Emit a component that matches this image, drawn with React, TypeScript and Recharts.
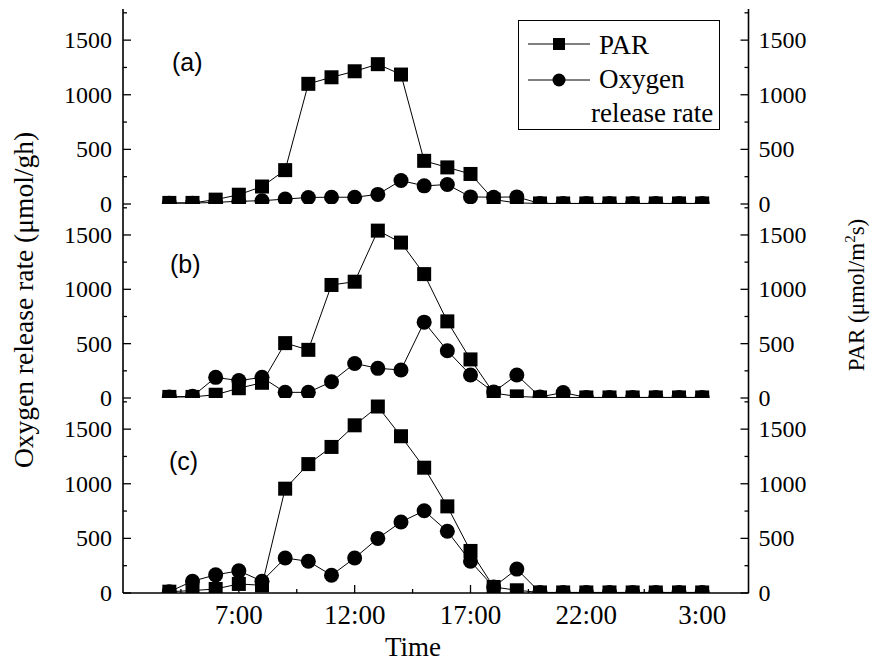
import React from 'react';
import { LineChart, Line, XAxis, YAxis, Legend } from 'recharts';

// hours of the day, 4:00 to 3:00 next morning (27 = 3:00)
const hours = [4, 5, 6, 7, 8, 9, 10, 11, 12, 13, 14, 15, 16, 17, 18, 19, 20, 21, 22, 23, 24, 25, 26, 27];

const parA = [10, 10, 40, 85, 160, 310, 1100, 1160, 1215, 1280, 1185, 395, 335, 275, 40, 10, 5, 5, 5, 5, 5, 5, 5, 5];
const oxyA = [8, 8, 15, 25, 30, 45, 60, 62, 62, 88, 215, 166, 178, 65, 62, 65, 5, 5, 5, 5, 5, 5, 5, 5];

const parB = [10, 10, 30, 90, 140, 505, 443, 1040, 1070, 1540, 1430, 1140, 705, 355, 45, 15, 5, 5, 5, 5, 5, 5, 5, 5];
const oxyB = [10, 15, 190, 160, 190, 52, 52, 150, 318, 273, 258, 698, 435, 212, 55, 212, 10, 50, 5, 5, 5, 5, 5, 5];

const parC = [12, 22, 37, 83, 70, 955, 1180, 1337, 1535, 1707, 1435, 1147, 793, 385, 55, 25, 5, 5, 5, 5, 5, 5, 5, 5];
const oxyC = [12, 108, 166, 203, 108, 320, 290, 163, 320, 500, 650, 753, 565, 290, 55, 219, 5, 5, 5, 5, 5, 5, 5, 5];

const xTicks = [4.5, 7, 9.5, 12, 14.5, 17, 19.5, 22, 24.5, 27];
const xMajor = [7, 12, 17, 22, 27];
const xLabels = ['7:00', '12:00', '17:00', '22:00', '3:00'];
const yTicks = [0, 250, 500, 750, 1000, 1250, 1500, 1750];
const yMajor = [0, 500, 1000, 1500];

const serif = '"Liberation Serif", "Times New Roman", serif';
const sans = '"Liberation Sans", Arial, sans-serif';
const axisStyle = { stroke: '#000', strokeWidth: 1.6 };
const serifStyle = { fontFamily: serif };

const rowsOf = (par: number[], oxy: number[]) => hours.map((h, i) => ({ hour: h, par: par[i], oxy: oxy[i] }));

const squareDot = (p: any) => (
  <rect key={`s${p.index}`} x={p.cx - 7} y={p.cy - 7} width={14} height={14} fill="#000" />
);
const circleDot = (p: any) => <circle key={`c${p.index}`} cx={p.cx} cy={p.cy} r={7.5} fill="#000" />;

const bottomTick = (withLabel: boolean) => (p: any) => {
  const v = p.payload.value;
  const major = xMajor.includes(v);
  const len = major ? 8 : 4;
  return (
    <g>
      <line x1={p.x} x2={p.x} y1={p.y} y2={p.y - len} stroke="#000" strokeWidth={1.3} />
      {withLabel && major && (
        <text x={p.x} y={p.y + 31} textAnchor="middle" style={serifStyle} fontSize={27} fill="#000">
          {xLabels[xMajor.indexOf(v)]}
        </text>
      )}
    </g>
  );
};

const topTick = (p: any) => {
  const len = xMajor.includes(p.payload.value) ? 8 : 4;
  return <line x1={p.x} x2={p.x} y1={p.y} y2={p.y + len} stroke="#000" strokeWidth={1.3} />;
};

const leftTick = (p: any) => {
  const v = p.payload.value;
  const major = yMajor.includes(v);
  return (
    <g>
      <line x1={p.x} x2={p.x + (major ? 8 : 4)} y1={p.y} y2={p.y} stroke="#000" strokeWidth={1.3} />
      {major && (
        <text x={p.x - 11} y={p.y + 8} textAnchor="end" style={serifStyle} fontSize={24} fill="#000">
          {v}
        </text>
      )}
    </g>
  );
};

const rightTick = (p: any) => {
  const v = p.payload.value;
  const major = yMajor.includes(v);
  return (
    <g>
      <line x1={p.x} x2={p.x - (major ? 8 : 4)} y1={p.y} y2={p.y} stroke="#000" strokeWidth={1.3} />
      {major && (
        <text x={p.x + 10} y={p.y + 8} textAnchor="start" style={serifStyle} fontSize={24} fill="#000">
          {v}
        </text>
      )}
    </g>
  );
};

const LegendBox = () => (
  <svg width={202} height={110} style={{ display: 'block' }}>
    <rect x={0.5} y={0.5} width={201} height={109} fill="#fff" stroke="#000" strokeWidth={1} />
    <line x1={10} x2={72} y1={24} y2={24} stroke="#000" strokeWidth={1} />
    <rect x={35} y={18} width={12} height={12} fill="#000" />
    <text x={81} y={34} style={serifStyle} fontSize={27} fill="#000">PAR</text>
    <line x1={10} x2={72} y1={60} y2={60} stroke="#000" strokeWidth={1} />
    <circle cx={41} cy={60} r={6.5} fill="#000" />
    <text x={81} y={68} style={serifStyle} fontSize={27} fill="#000">Oxygen</text>
    <text x={73} y={102} style={serifStyle} fontSize={27} fill="#000">release rate</text>
  </svg>
);

type PanelProps = {
  par: number[];
  oxy: number[];
  top: number;
  height: number;
  margin: { top: number; bottom: number };
  xHeight: number;
  labels?: boolean;
  legend?: boolean;
};

const Panel = ({ par, oxy, top, height, margin, xHeight, labels, legend }: PanelProps) => (
  <div style={{ position: 'absolute', left: 0, top }}>
    <LineChart
      width={870}
      height={height}
      data={rowsOf(par, oxy)}
      margin={{ top: margin.top, right: 0, bottom: margin.bottom, left: 0 }}
    >
      <XAxis
        xAxisId="b"
        dataKey="hour"
        type="number"
        domain={[2, 29]}
        ticks={xTicks}
        interval={0}
        orientation="bottom"
        height={xHeight}
        tickSize={0}
        tickMargin={0}
        tickLine={false}
        axisLine={axisStyle}
        tick={bottomTick(!!labels)}
        allowDataOverflow
      />
      <XAxis
        xAxisId="t"
        dataKey="hour"
        type="number"
        domain={[2, 29]}
        ticks={xTicks}
        interval={0}
        orientation="top"
        height={0}
        tickSize={0}
        tickMargin={0}
        tickLine={false}
        axisLine={axisStyle}
        tick={topTick}
        allowDataOverflow
      />
      <YAxis
        yAxisId="o"
        orientation="left"
        width={123}
        type="number"
        domain={[0, 1785]}
        ticks={yTicks}
        interval={0}
        tickSize={0}
        tickMargin={0}
        tickLine={false}
        axisLine={axisStyle}
        tick={leftTick}
        allowDataOverflow
      />
      <YAxis
        yAxisId="p"
        orientation="right"
        width={121.5}
        type="number"
        domain={[0, 1785]}
        ticks={yTicks}
        interval={0}
        tickSize={0}
        tickMargin={0}
        tickLine={false}
        axisLine={axisStyle}
        tick={rightTick}
        allowDataOverflow
      />
      {legend && (
        <Legend
          layout="horizontal"
          verticalAlign="middle"
          align="center"
          content={() => <LegendBox />}
          wrapperStyle={{ left: 518, top: 20, width: 202, height: 110 }}
        />
      )}
      <Line
        xAxisId="b"
        yAxisId="p"
        dataKey="par"
        name="PAR"
        stroke="#000"
        strokeWidth={1}
        dot={squareDot}
        activeDot={false}
        isAnimationActive={false}
      />
      <Line
        xAxisId="b"
        yAxisId="o"
        dataKey="oxy"
        name="Oxygen release rate"
        stroke="#000"
        strokeWidth={1}
        dot={circleDot}
        activeDot={false}
        isAnimationActive={false}
      />
    </LineChart>
  </div>
);

export default function App() {
  return (
    <div style={{ position: 'absolute', left: 0, top: 0, width: 870, height: 664, background: '#fff', overflow: 'hidden' }}>
      <Panel par={parA} oxy={oxyA} top={0} height={219} margin={{ top: 9, bottom: 15 }} xHeight={0} legend />
      <Panel par={parB} oxy={oxyB} top={189} height={224} margin={{ top: 15, bottom: 15 }} xHeight={0} />
      <Panel par={parC} oxy={oxyC} top={383} height={281} margin={{ top: 15, bottom: 0 }} xHeight={71} labels />
      <svg width={870} height={664} style={{ position: 'absolute', left: 0, top: 0, pointerEvents: 'none' }}>
        <text x={172} y={71} style={{ fontFamily: sans }} fontSize={25} fill="#000">(a)</text>
        <text x={170} y={273} style={{ fontFamily: sans }} fontSize={25} fill="#000">(b)</text>
        <text x={169} y={470} style={{ fontFamily: sans }} fontSize={25} fill="#000">(c)</text>
        <text x={413} y={656} textAnchor="middle" style={serifStyle} fontSize={27} fill="#000">Time</text>
        <text
          x={0}
          y={0}
          transform="translate(33,300) rotate(-90)"
          textAnchor="middle"
          style={serifStyle}
          fontSize={27.5}
          fill="#000"
        >
          Oxygen release rate (μmol/gh)
        </text>
        <text
          x={0}
          y={0}
          transform="translate(864,295) rotate(-90)"
          textAnchor="middle"
          style={serifStyle}
          fontSize={23}
          fill="#000"
        >
          PAR (μmol/m<tspan dy={-9} fontSize={15}>2</tspan><tspan dy={9}>s)</tspan>
        </text>
      </svg>
    </div>
  );
}
